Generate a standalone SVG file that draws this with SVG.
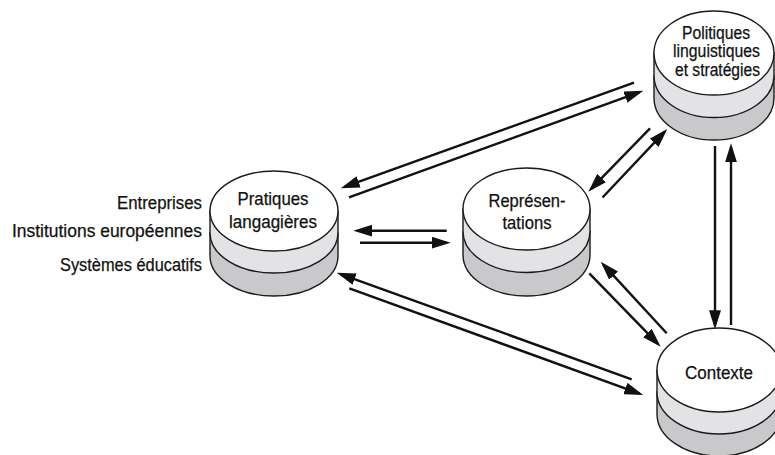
<svg xmlns="http://www.w3.org/2000/svg" width="775" height="455" viewBox="0 0 775 455">
  <defs>
    <marker id="ah" markerUnits="userSpaceOnUse" markerWidth="19" markerHeight="12" viewBox="0 0 19 12" refX="15" refY="6" orient="auto">
      <path d="M0,0 L19,6 L0,12 z" fill="#111"/>
    </marker>
  </defs>
  <style>
    .bg { fill: #ffffff; }
    .dark { fill: #c9c9cb; stroke: #1a1a1a; stroke-width: 1.4; }
    .light { fill: #e3e3e5; stroke: #1a1a1a; stroke-width: 1.4; }
    .top { fill: #ffffff; stroke: #1a1a1a; stroke-width: 1.4; }
    .lbl { font-family: "Liberation Sans", Arial, sans-serif; font-size: 17.5px; fill: #111; stroke: #111; stroke-width: 0.25; }
    .c { text-anchor: middle; }
    .r { text-anchor: end; }
    .arr { stroke: #111; stroke-width: 2.4; fill: none; marker-end: url(#ah); }
  </style>
  <rect class="bg" x="0" y="0" width="775" height="455"/>

  <g id="connectors">
    <line class="arr" x1="634" y1="82.7" x2="344.5" y2="186.9"/>
    <line class="arr" x1="349" y1="197.3" x2="639.5" y2="92.1"/>
    <line class="arr" x1="446.7" y1="230.7" x2="357.3" y2="230.7"/>
    <line class="arr" x1="360" y1="242.7" x2="446.7" y2="242.7"/>
    <line class="arr" x1="631.7" y1="379.3" x2="340.5" y2="274.1"/>
    <line class="arr" x1="349.3" y1="288.3" x2="639.5" y2="393.6"/>
    <line class="arr" x1="650" y1="128.3" x2="591.1" y2="188.8"/>
    <line class="arr" x1="602.5" y1="197.5" x2="664.5" y2="131.9"/>
    <line class="arr" x1="666.7" y1="333.3" x2="603.4" y2="264.6"/>
    <line class="arr" x1="589.3" y1="273.3" x2="657.9" y2="343.8"/>
    <line class="arr" x1="715" y1="146" x2="715" y2="325.3"/>
    <line class="arr" x1="731" y1="325" x2="731" y2="147.3"/>
  </g>

  <g id="pratiques">
    <path class="dark" d="M210,233 L210,256 A64,40 0 0 0 338,256 L338,233 Z"/>
    <path class="light" d="M210,211 L210,233 A64,40 0 0 0 338,233 L338,211 Z"/>
    <ellipse class="top" cx="274" cy="211" rx="64" ry="40"/>
    <text class="lbl c" x="273" y="205" textLength="71" lengthAdjust="spacingAndGlyphs">Pratiques</text>
    <text class="lbl c" x="273" y="228" textLength="88" lengthAdjust="spacingAndGlyphs">langagières</text>
  </g>

  <g id="labels-pratiques">
    <text class="lbl r" x="202" y="209" textLength="85" lengthAdjust="spacingAndGlyphs">Entreprises</text>
    <text class="lbl r" x="202" y="237" textLength="190" lengthAdjust="spacingAndGlyphs">Institutions européennes</text>
    <text class="lbl r" x="202" y="270.5" textLength="142" lengthAdjust="spacingAndGlyphs">Systèmes éducatifs</text>
  </g>

  <g id="representations">
    <path class="dark" d="M463,231.5 L463,255 A63.5,41 0 0 0 590,255 L590,231.5 Z"/>
    <path class="light" d="M463,209 L463,231.5 A63.5,41 0 0 0 590,231.5 L590,209 Z"/>
    <ellipse class="top" cx="526.5" cy="209" rx="63.5" ry="41"/>
    <text class="lbl c" x="527" y="206.5" textLength="77" lengthAdjust="spacingAndGlyphs">Représen-</text>
    <text class="lbl c" x="527" y="228.5" textLength="49" lengthAdjust="spacingAndGlyphs">tations</text>
  </g>

  <g id="politiques">
    <path class="dark" d="M654,75.5 L654,98 A60,42 0 0 0 774,98 L774,75.5 Z"/>
    <path class="light" d="M654,53 L654,75.5 A60,42 0 0 0 774,75.5 L774,53 Z"/>
    <ellipse class="top" cx="714" cy="53" rx="60" ry="42"/>
    <text class="lbl c" x="716" y="38.5" textLength="68" lengthAdjust="spacingAndGlyphs">Politiques</text>
    <text class="lbl c" x="716.5" y="57" textLength="87" lengthAdjust="spacingAndGlyphs">linguistiques</text>
    <text class="lbl c" x="717.5" y="76" textLength="85" lengthAdjust="spacingAndGlyphs">et stratégies</text>
  </g>

  <g id="contexte">
    <path class="dark" d="M657,392 L657,414 A62,42 0 0 0 781,414 L781,392 Z"/>
    <path class="light" d="M657,370 L657,392 A62,42 0 0 0 781,392 L781,370 Z"/>
    <ellipse class="top" cx="719" cy="370" rx="62" ry="42"/>
    <text class="lbl c" x="719" y="378.5" textLength="68" lengthAdjust="spacingAndGlyphs">Contexte</text>
  </g>
</svg>
